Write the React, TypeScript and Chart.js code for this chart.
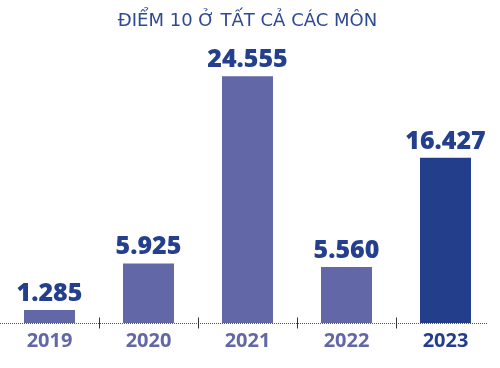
import React, { useEffect, useRef } from "react";
import { Chart, registerables } from "chart.js";

Chart.register(...registerables);

const title = "ĐIỂM 10 Ở TẤT CẢ CÁC MÔN";
const years = ["2019", "2020", "2021", "2022", "2023"];
const values = [1285, 5925, 24555, 5560, 16427];
const barColors = ["#6267a7", "#6267a7", "#6267a7", "#6267a7", "#233f8c"];
const tickColors = ["#6267a7", "#6267a7", "#6267a7", "#6267a7", "#253e8c"];

const fmt = (v: number) => String(v).replace(/\B(?=(\d{3})+(?!\d))/g, ".");

const FONT = "'Open Sans', sans-serif";

const decorPlugin = {
  id: "decor",
  afterDraw(chart: any) {
    const { ctx, chartArea, scales } = chart;
    const x = scales.x;
    const y0 = Math.round(chartArea.bottom) + 0.5;
    ctx.save();
    ctx.strokeStyle = "#555555";
    ctx.lineWidth = 1;
    ctx.setLineDash([1, 1]);
    ctx.beginPath();
    ctx.moveTo(0, y0);
    ctx.lineTo(488, y0);
    ctx.stroke();
    ctx.setLineDash([]);
    ctx.strokeStyle = "#333333";
    for (let i = 0; i < years.length - 1; i++) {
      const bx = Math.round((x.getPixelForValue(i) + x.getPixelForValue(i + 1)) / 2) + 0.5;
      ctx.beginPath();
      ctx.moveTo(bx, y0 - 6);
      ctx.lineTo(bx, y0 + 5);
      ctx.stroke();
    }
    const meta = chart.getDatasetMeta(0);
    ctx.fillStyle = "#243f8d";
    ctx.font = `800 25px ${FONT}`;
    ctx.textAlign = "center";
    ctx.textBaseline = "alphabetic";
    meta.data.forEach((bar: any, i: number) => {
      ctx.fillText(fmt(values[i]), bar.x, bar.y - 9);
    });
    ctx.restore();
  },
};

export default function App() {
  const ref = useRef<HTMLCanvasElement | null>(null);
  useEffect(() => {
    if (!ref.current) return;
    const chart = new Chart(ref.current, {
      type: "bar",
      data: {
        labels: years,
        datasets: [
          {
            data: values,
            backgroundColor: barColors,
            barPercentage: 0.515,
            categoryPercentage: 1,
          },
        ],
      },
      options: {
        animation: false,
        responsive: false,
        maintainAspectRatio: false,
        layout: { padding: { left: 0, right: 5, top: 0, bottom: 9 } },
        plugins: {
          legend: { display: false },
          tooltip: { enabled: false },
          title: {
            display: true,
            text: title,
            color: "#2e4a94",
            font: { family: "'DejaVu Sans', sans-serif", size: 18, weight: "normal" },
            padding: { top: 11, bottom: 29 },
          },
        },
        scales: {
          x: {
            grid: { display: false, drawTicks: false },
            border: { display: false },
            ticks: {
              color: tickColors,
              font: { family: FONT, size: 20, weight: "bold" },
              padding: 6,
            },
          },
          y: {
            display: false,
            min: 0,
            max: 26000,
          },
        },
      },
      plugins: [decorPlugin],
    });
    return () => chart.destroy();
  }, []);
  return (
    <div style={{ position: "absolute", left: 0, top: 0, width: 500, height: 368, background: "#fff" }}>
      <canvas ref={ref} width={500} height={368} style={{ width: 500, height: 368 }} />
    </div>
  );
}
